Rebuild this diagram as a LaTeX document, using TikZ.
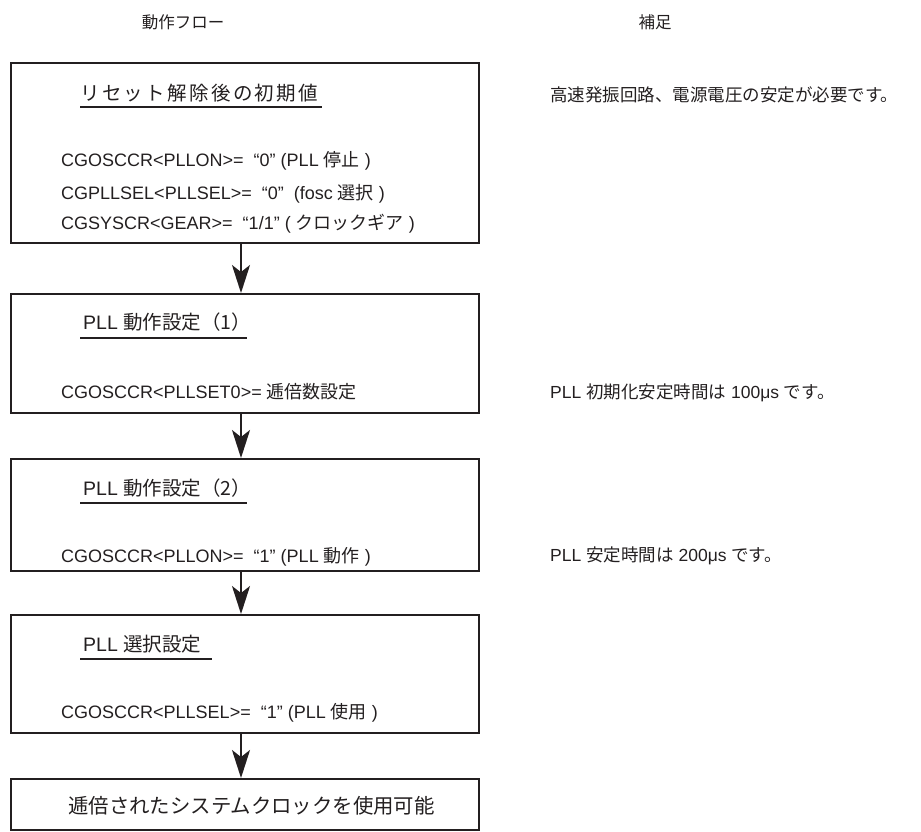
\documentclass[tikz,border=0pt]{standalone}
\usepackage{fontspec}
\setmainfont{Liberation Sans}
\newfontfamily\jpfont{Noto Sans CJK JP}
\newfontfamily\jpwide[LetterSpace=12]{Noto Sans CJK JP}
\newcommand{\jp}[1]{{\jpfont #1}}
\usetikzlibrary{arrows.meta}
\definecolor{ink}{HTML}{231F20}
\begin{document}
\begin{tikzpicture}[x=1pt,y=-1pt,
  box/.style={draw=ink, line width=2pt, minimum width=468pt, anchor=north west, inner sep=0pt},
  txt/.style={anchor=west, inner sep=0pt, text=ink, font=\fontsize{18}{20}\selectfont},
  note/.style={anchor=west, inner sep=0pt, text=ink, font=\fontsize{17.5}{20}\selectfont},
  head/.style={anchor=west, inner sep=0pt, text=ink, font=\fontsize{19.5}{22}\selectfont},
  coltitle/.style={inner sep=0pt, text=ink, font=\fontsize{16.5}{20}\selectfont\jpfont},
  uline/.style={draw=ink, line width=2pt},
  arr/.style={draw=ink, line width=2pt, -{Stealth[length=28pt, width=18pt, inset=7pt]}}]
\useasboundingbox (0,0) rectangle (921,831);
% column titles
\node[coltitle] (c1) at (183,22) {動作フロー};
\node[coltitle] (c2) at (655,22) {補足};
% boxes
\node[box, minimum height=180pt] (b1) at (10,62) {};
\node[box, minimum height=119pt] (b2) at (10,293) {};
\node[box, minimum height=112pt] (b3) at (10,458) {};
\node[box, minimum height=118pt] (b4) at (10,614) {};
\node[box, minimum height=51pt] (b5) at (10,778) {};
% box 1
\node[head] (h1) at (80,93) {\jpwide リセット解除後の初期値};
\draw[uline] (80,107) -- (322,107);
\node[txt] (l11) at (61,160.5) {CGOSCCR<PLLON>=\ \ “0” (PLL \jp{停止} )};
\node[txt] (l12) at (61,193.5) {CGPLLSEL<PLLSEL>=\ \ “0”\ \ (fosc \jp{選択} )};
\node[txt] (l13) at (61,224) {CGSYSCR<GEAR>=\ \ “1/1” ( \jp{クロックギア} )};
% box 2
\node[head] (h2) at (83,322) {PLL \jp{動作設定（1）}};
\draw[uline] (80,338) -- (247,338);
\node[txt] (l21) at (61,392) {CGOSCCR<PLLSET0>= \jp{逓倍数設定}};
% box 3
\node[head] (h3) at (83,488) {PLL \jp{動作設定（2）}};
\draw[uline] (80,503) -- (247,503);
\node[txt] (l31) at (61,557) {CGOSCCR<PLLON>=\ \ “1” (PLL \jp{動作} )};
% box 4
\node[head] (h4) at (83,644) {PLL \jp{選択設定}};
\draw[uline] (80,659) -- (212,659);
\node[txt] (l41) at (61,713) {CGOSCCR<PLLSEL>=\ \ “1” (PLL \jp{使用} )};
% box 5
\node[anchor=west, inner sep=0pt, text=ink, font=\fontsize{20.4}{24}\selectfont\jpfont] (l51) at (68,806) {逓倍されたシステムクロックを使用可能};
% arrows
\draw[arr] ([xshift=-4pt]b1.south) -- ([xshift=-4pt]b2.north);
\draw[arr] ([xshift=-4pt]b2.south) -- ([xshift=-4pt]b3.north);
\draw[arr] ([xshift=-4pt]b3.south) -- ([xshift=-4pt]b4.north);
\draw[arr] ([xshift=-4pt]b4.south) -- ([xshift=-4pt]b5.north);
% notes
\node[note] (n1) at (550,95) {\jp{高速発振回路、電源電圧の安定が必要です。}};
\node[note] (n2) at (550,393) {PLL \jp{初期化安定時間は} 100μs \jp{です。}};
\node[note] (n3) at (550,556) {PLL \jp{安定時間は} 200μs \jp{です。}};
\end{tikzpicture}
\end{document}
